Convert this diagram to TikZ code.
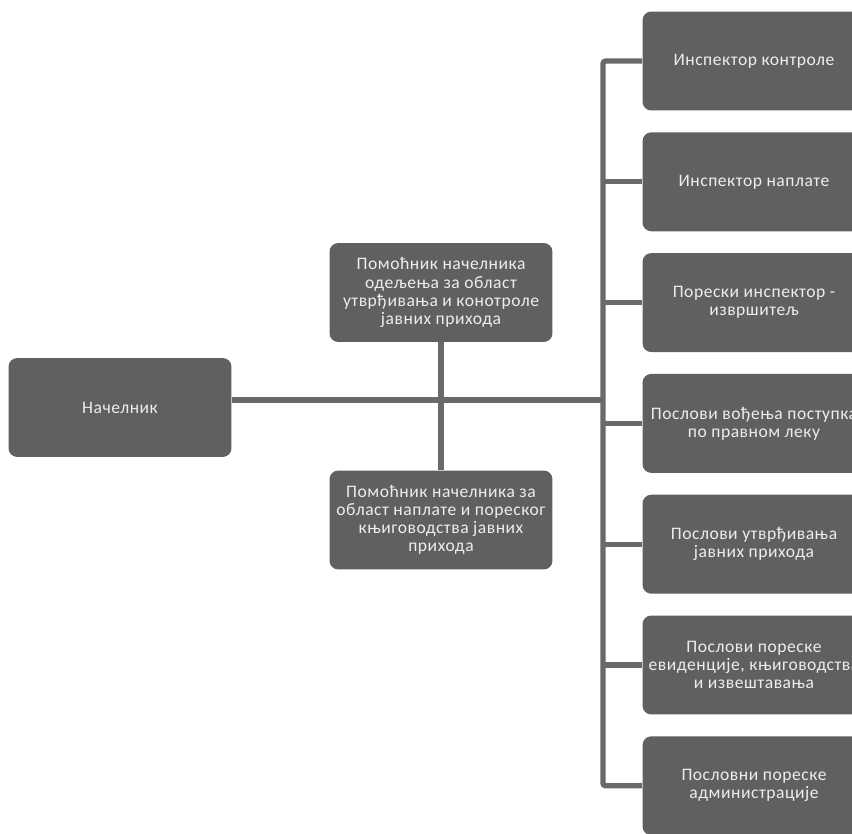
\documentclass[tikz,border=0pt]{standalone}
\usepackage{fontspec}
\setmainfont{Carlito}[LetterSpace=3]
\usetikzlibrary{positioning}

\definecolor{boxgray}{HTML}{606060}
\definecolor{linegray}{HTML}{696969}
\definecolor{boxtext}{HTML}{EDEDED}

\tikzset{
  orgbox/.style={fill=boxgray, rounded corners=5pt, minimum width=4.46cm, minimum height=1.98cm,
    text=boxtext, align=center, inner sep=1pt, font=\fontsize{10}{10.3}\selectfont},
  orgline/.style={draw=linegray, line width=3pt, rounded corners=1.5pt}
}

\begin{document}
\begin{tikzpicture}[x=0.02cm,y=-0.02cm]

  \useasboundingbox (0,0) rectangle (852,834);
  \clip (0,0) rectangle (852,834);
  \fill [white] (0,0) rectangle (852,834);

  % Head and assistants
  \node [orgbox] (nach) at (120,407.5) {Начелник};
  \node [orgbox] (pom1) at (441,292.5) {Помоћник начелника\\одељења за област\\утврђивања и конотроле\\јавних прихода};
  \node [orgbox] (pom2) at (441,520) {Помоћник начелника за\\област наплате и пореског\\књиговодства јавних\\прихода};

  % Jobs on the right
  \node [orgbox] (r1) at (754,61) {Инспектор контроле};
  \node [orgbox] (r2) at (754,181.8) {Инспектор наплате};
  \node [orgbox] (r3) at (754,302.6) {Порески инспектор -\\извршитељ};
  \node [orgbox] (r4) at (754,423.4) {Послови вођења поступка\\по правном леку};
  \node [orgbox] (r5) at (754,544.2) {Послови утврђивања\\јавних прихода};
  \node [orgbox] (r6) at (754,665) {Послови пореске\\евиденције, књиговодства\\и извештавања};
  \node [orgbox] (r7) at (754,785.8) {Пословни пореске\\администрације};

  \coordinate (bus) at (603,400);

  % Draw lines
  \draw [orgline] (nach.east |- bus) -- (bus);
  \draw [orgline] (pom1.south) -- (pom2.north);
  \draw [orgline] (r1.west) -| (bus) |- (r7.west);
  \draw [orgline] (r2.west -| bus) -- (r2.west);
  \draw [orgline] (r3.west -| bus) -- (r3.west);
  \draw [orgline] (r4.west -| bus) -- (r4.west);
  \draw [orgline] (r5.west -| bus) -- (r5.west);
  \draw [orgline] (r6.west -| bus) -- (r6.west);

\end{tikzpicture}
\end{document}
